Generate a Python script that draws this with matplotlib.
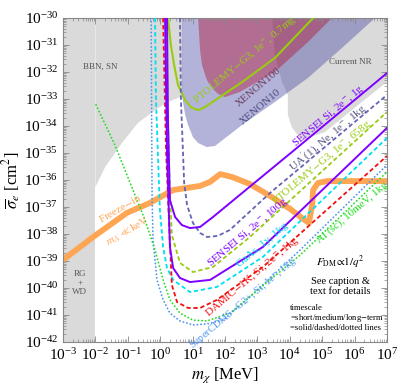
import matplotlib
matplotlib.use('Agg')
import matplotlib.pyplot as plt
from matplotlib.ticker import LogLocator, NullFormatter
import numpy as np

plt.rcParams['font.family'] = ['Liberation Serif', 'DejaVu Serif']
plt.rcParams['mathtext.fontset'] = 'stix'

# all values are log10(m_chi / MeV) and log10(sigma_e / cm^2)
# --- shaded regions
bbn_m = [-2.0, -2.0, -1.70, -1.18, -0.69, -0.16, 0.24, 0.55, 0.68, 0.68]
bbn_s = [-30.0, -36.26, -35.52, -34.63, -33.89, -33.41, -33.11, -32.96, -32.92, -30.0]

nr_m = [3.45, 3.54, 3.76, 3.94, 3.94, 4.07, 4.38, 5.09, 6.11, 7.0, 7.0]
nr_s = [-30.0, -31.37, -32.37, -32.85, -33.59, -34.07, -34.52, -34.22, -33.22, -32.37, -30.0]

xe10_m = [0.67, 0.67, 0.77, 0.86, 1.01, 1.17, 1.44, 1.69, 2.53, 3.54, 4.56, 5.61, 6.63]
xe10_s = [-30.0, -32.85, -33.59, -33.96, -34.41, -34.63, -34.78, -34.74, -33.96, -33.11, -32.22, -31.11, -30.0]

xe100_m = [1.17, 1.23, 1.29, 1.44, 1.60, 1.78, 2.0, 2.46, 3.54, 4.56, 5.30]
xe100_s = [-30.0, -31.19, -31.74, -32.30, -32.59, -32.81, -32.93, -32.74, -32.0, -30.89, -30.0]

# --- projected reach curves
ptol07_m = [0.24, 0.33, 0.43, 0.55, 0.77, 0.98, 1.17, 1.38, 2.53, 3.54, 4.72]
ptol07_s = [-30.0, -31.0, -31.74, -32.48, -33.04, -33.33, -33.41, -33.30, -32.37, -31.48, -30.0]

sensei1_m = [0.21, 0.24, 0.30, 0.46, 0.67, 0.92, 1.23, 1.63, 3.39, 4.07, 7.0]
sensei1_s = [-30.0, -33.78, -36.74, -37.37, -37.67, -37.78, -37.74, -37.37, -35.63, -34.96, -32.04]

ua_m = [0.61, 0.64, 0.74, 0.83, 1.01, 1.23, 1.44, 1.78, 2.15, 3.39, 7.0]
ua_s = [-30.0, -33.04, -36.11, -36.93, -37.59, -37.96, -38.11, -38.07, -37.85, -36.48, -32.85]

ptol658_m = [0.18, 0.24, 0.30, 0.36, 0.61, 1.01, 1.63, 2.77, 7.0]
ptol658_s = [-30.0, -33.78, -36.48, -38.04, -39.07, -39.41, -39.22, -38.11, -33.48]

sensei100_m = [0.15, 0.21, 0.30, 0.40, 0.61, 0.92, 1.54, 3.17, 7.0]
sensei100_s = [-30.0, -34.89, -38.48, -39.26, -39.63, -39.78, -39.70, -38.48, -34.07]

gaas_m = [-0.16, -0.13, -0.01, 0.09, 0.21, 0.40, 0.92, 1.75, 3.17, 7.0]
gaas_s = [-30.0, -33.04, -37.11, -38.48, -39.26, -39.70, -40.15, -39.96, -38.85, -34.44]

damic_m = [0.09, 0.18, 0.30, 0.36, 0.52, 0.86, 1.23, 1.75, 3.17, 7.0]
damic_s = [-30.0, -34.89, -38.33, -39.89, -40.52, -40.74, -40.74, -40.44, -39.22, -35.11]

cdms_m = [-0.28, -0.25, -0.22, -0.10, 0.09, 0.30, 0.61, 1.01, 1.44, 1.94, 2.77, 4.32, 7.0]
cdms_s = [-30.0, -36.74, -38.22, -39.70, -40.44, -40.93, -41.22, -41.37, -41.33, -41.19, -40.33, -38.59, -35.44]

al_m = [-1.98, -1.40, -0.84, -0.47, -0.16, 0.09, 0.30, 0.61, 1.01, 1.44, 2.15, 4.32, 7.0]
al_s = [-33.22, -34.70, -36.37, -37.48, -38.59, -39.70, -40.44, -40.93, -41.19, -41.22, -40.93, -38.78, -35.70]

# freeze-in band
fi_m = [-3.0, -2.07, -1.03, -0.32, 0.40, 1.23, 1.54, 1.85, 2.22, 2.77, 3.39, 4.01, 4.41,
        4.59, 4.69, 4.72, 4.87, 5.15, 7.0]
fi_s = [-38.96, -38.11, -37.22, -36.85, -36.37, -36.22, -36.07, -35.78, -35.89, -36.15,
        -36.59, -37.07, -37.44, -37.59, -36.93, -36.37, -36.11, -36.04, -36.04]


def p(a):
    return 10 ** np.array(a)


fig = plt.figure(figsize=(3.99, 3.88), dpi=100)
ax = fig.add_axes([63 / 399, 46 / 388, 324 / 399, 324 / 388])
ax.set_xscale('log')
ax.set_yscale('log')

gray = '#dadada'
ax.axvspan(1e-3, 1e-2, color=gray, lw=0, zorder=0)
ax.fill(p(bbn_m), p(bbn_s), color=gray, lw=0, zorder=0)
ax.fill(p(nr_m), p(nr_s), color=gray, lw=0, zorder=0)
ax.fill(p(xe10_m), p(xe10_s), color='#4a4aa6', alpha=0.42, lw=0, zorder=1)
ax.fill(p(xe100_m), p(xe100_s), color='#b01030', alpha=0.42, lw=0, zorder=1)

ax.plot(p(fi_m), p(fi_s), color='#ffa655', lw=4.2, solid_joinstyle='round',
        solid_capstyle='butt', zorder=2)

lw = 1.3
dash = (0, (2.4, 1.5))
dot = (0, (0.1, 1.9))
ax.plot(p(ptol07_m), p(ptol07_s), color='#99cc11', lw=1.5, zorder=3)
ax.plot(p(ua_m), p(ua_s), color='#6464b4', lw=lw, ls=dash, zorder=3)
ax.plot(p(ptol658_m), p(ptol658_s), color='#99cc11', lw=lw, ls=dash, zorder=3)
ax.plot(p(gaas_m), p(gaas_s), color='#00e0f0', lw=lw, ls=dash, zorder=3)
ax.plot(p(damic_m), p(damic_s), color='#f01010', lw=lw, ls=dash, zorder=3)
ax.plot(p(cdms_m), p(cdms_s), color='#4f94f0', lw=lw, ls=dot,
        dash_capstyle='round', zorder=3)
ax.plot(p(al_m), p(al_s), color='#22dd22', lw=lw, ls=dot,
        dash_capstyle='round', zorder=3)
ax.plot(p(sensei1_m), p(sensei1_s), color='#7f00ff', lw=1.4, zorder=4)
ax.plot(p(sensei100_m), p(sensei100_s), color='#7f00ff', lw=1.4, zorder=4)

ax.set_xlim(1e-3, 1e7)
ax.set_ylim(1e-42, 1e-30)

# labels
def lab(lx, ly, s, c, fs=8, rot=40):
    ax.text(10 ** lx, 10 ** ly, s, color=c, fontsize=fs, rotation=rot,
            rotation_mode='anchor', ha='center', va='center', zorder=5)

lab(-1.86, -31.81, 'BBN, SN', '#555555', 6.5, 0)
lab(5.86, -31.63, 'Current NR', '#555555', 6.5, 0)
lab(-2.48, -39.81, 'RG\n+\nWD', '#555555', 6.5, 0)
lab(3.02, -32.56, 'XENON100', '#6a3c5e', 8)
lab(3.08, -33.30, 'XENON10', '#4a4a82', 8)
lab(2.62, -31.56, r'PTOLEMY$-$G3, 1e$^{-}$, 0.7mg', '#99cc11')
lab(5.18, -33.62, r'SENSEI Si, 2e$^{-}$, 1g', '#7f00ff')
lab(5.18, -34.44, r"UA$'$(1), Ne, 1e$^{-}$, 1kg", '#505080')
lab(4.99, -35.37, r'PTOLEMY$-$G3, 1e$^{-}$, 658g', '#99cc11')
lab(2.71, -37.93, r'SENSEI Si, 2e$^{-}$, 100g', '#7f00ff')
lab(3.17, -38.41, 'GaAs, 1y, 1kg', '#00d0e8')
lab(2.86, -39.59, r'DAMIC$-$1K, Si, 2e$^{-}$, 1kg', '#f01010')
lab(2.55, -40.55, r'SuperCDMS$-$G2+, Si, 1e$^{-}$, 1kg', '#4f94f0', 7.5)
lab(5.92, -37.19, r'Al (sc), 10meV, 1kg', '#22dd22')
lab(-1.24, -37.04, r'Freeze$-$in', '#ffa655', 8, 30)
lab(-0.99, -37.89, r"$m_{A'}\!\ll$keV", '#ffa655', 8, 30)

ax.text(10 ** 5.55, 10 ** -39.04, r'$F_{\rm DM}\!\propto\!1/q^2$', fontsize=8,
        ha='center', va='center')
ax.text(10 ** 5.55, 10 ** -39.95, 'See caption &\ntext for details', fontsize=7.5,
        ha='center', va='center', linespacing=1.2)
ax.text(10 ** 4.0, 10 ** -41.11, 'timescale\n=short/medium/long$-$term\n=solid/dashed/dotted lines',
        fontsize=6.2, ha='left', va='center', linespacing=1.05)

ax.set_xlabel(r'$m_\chi$ [MeV]', fontsize=12, labelpad=2)
ax.set_ylabel(r'$\overline{\sigma}_e$ [cm$^2$]', fontsize=12, labelpad=1)

for axis in (ax.xaxis, ax.yaxis):
    axis.set_major_locator(LogLocator(base=10, numticks=30))
    axis.set_minor_locator(LogLocator(base=10, subs=np.arange(2, 10) * 1.0, numticks=300))
    axis.set_minor_formatter(NullFormatter())
ax.tick_params(which='both', direction='in', top=True, right=True,
               labelsize=11, color='#888888')
ax.tick_params(which='major', length=4, width=0.6)
ax.tick_params(which='minor', length=2, width=0.5)
for s in ax.spines.values():
    s.set_color('#888888')
    s.set_linewidth(0.8)

fig.savefig('out.png', dpi=100)
